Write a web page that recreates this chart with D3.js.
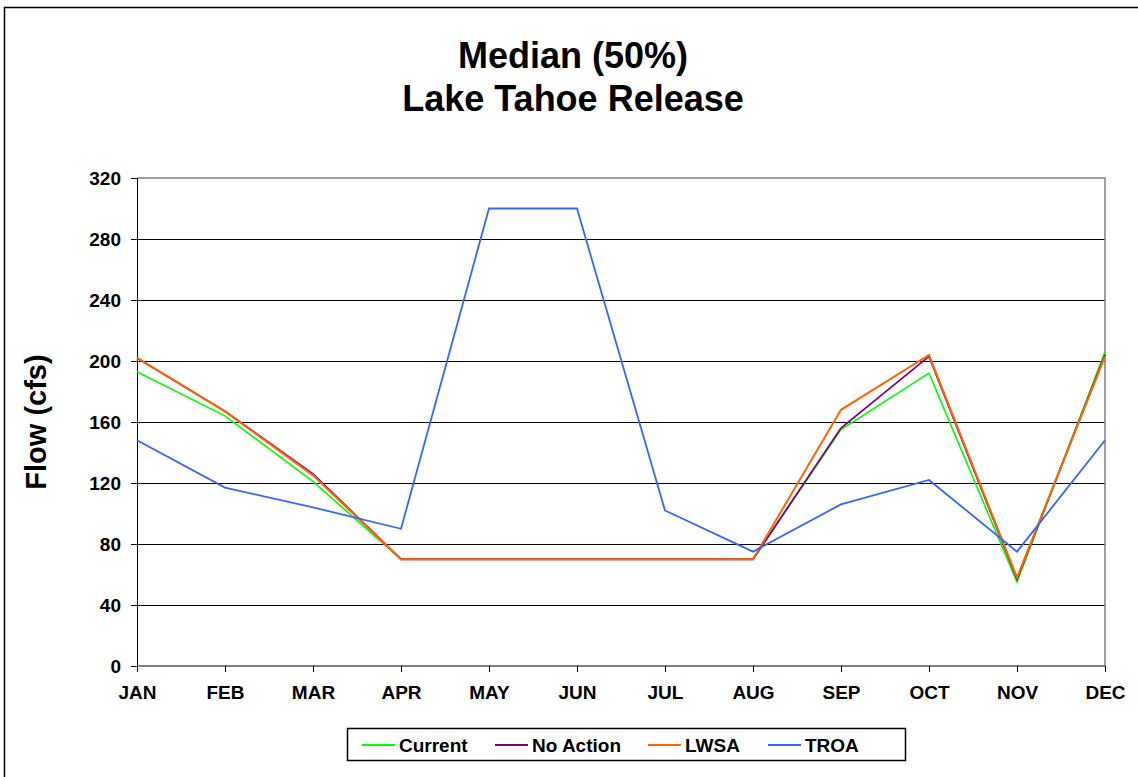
<!DOCTYPE html>
<html>
<head>
<meta charset="utf-8">
<script src="https://cdn.jsdelivr.net/npm/d3@7"></script>
<style>
  body { margin: 0; background: #fff; }
  text { font-family: "Liberation Sans", Arial, sans-serif; font-weight: bold; }
</style>
</head>
<body>
<div id="chart"></div>
<script>
const months = ['JAN', 'FEB', 'MAR', 'APR', 'MAY', 'JUN', 'JUL', 'AUG', 'SEP', 'OCT', 'NOV', 'DEC'];
const current = [193, 164, 121, 70, 70, 70, 70, 70, 155, 192, 55, 206];
const noAction = [202, 167, 126, 70, 70, 70, 70, 70, 156, 203, 57, 204];
const lwsa = [202, 167, 125, 70, 70, 70, 70, 70, 168, 204, 58, 203];
const troa = [148, 117, 104, 90, 300, 300, 102, 75, 106, 122, 75, 148];
const yTicks = [0, 40, 80, 120, 160, 200, 240, 280, 320];

const series = [
  { name: 'Current', values: current, color: '#00ff00', width: 1.6 },
  { name: 'No Action', values: noAction, color: '#800080', width: 1.8 },
  { name: 'LWSA', values: lwsa, color: '#ff6600', width: 2 },
  { name: 'TROA', values: troa, color: '#3366ff', width: 1.8 },
];

const width = 1138;
const height = 777;
const margin = { top: 178, right: 33, bottom: 111, left: 137 };

const svg = d3
  .select('#chart')
  .append('svg')
  .attr('width', width)
  .attr('height', height);

// outer chart frame
svg.append('rect')
  .attr('x', 4.5).attr('y', 7.5)
  .attr('width', width + 10).attr('height', height + 10)
  .attr('fill', 'none').attr('stroke', '#000').attr('stroke-width', 1.5);

const x = d3.scalePoint().domain(months).range([margin.left, width - margin.right]);
const y = d3.scaleLinear().domain([0, 320]).range([height - margin.bottom, margin.top]);

// gridlines
svg.append('g')
  .selectAll('line')
  .data(yTicks.filter(d => d > 0 && d < 320))
  .join('line')
  .attr('x1', margin.left).attr('x2', width - margin.right)
  .attr('y1', d => Math.round(y(d)) + 0.5).attr('y2', d => Math.round(y(d)) + 0.5)
  .attr('stroke', '#000').attr('stroke-width', 1);

// plot border top/right (gray)
svg.append('path')
  .attr('d', `M${margin.left},${y(320)}H${width - margin.right}V${y(0)}`)
  .attr('fill', 'none').attr('stroke', '#808080').attr('stroke-width', 1.5);

// y axis
const yAxis = svg.append('g')
  .attr('transform', `translate(${margin.left},0)`)
  .call(d3.axisLeft(y).tickValues(yTicks).tickSize(6).tickPadding(10));
yAxis.selectAll('text').style('font-size', '19px').attr('fill', '#000');
yAxis.selectAll('line, path').attr('stroke', '#000');

// x axis
const xAxis = svg.append('g')
  .attr('transform', `translate(0,${y(0)})`)
  .call(d3.axisBottom(x).tickSize(6).tickPadding(14));
xAxis.select('.domain').attr('d', `M${margin.left},0H${width - margin.right}`);
xAxis.selectAll('text').style('font-size', '19px').attr('fill', '#000');
xAxis.selectAll('line, path').attr('stroke', '#000');

// lines
const line = d3.line().x((d, i) => x(months[i])).y(d => y(d));
svg.append('g')
  .selectAll('path')
  .data(series)
  .join('path')
  .attr('d', d => line(d.values))
  .attr('fill', 'none')
  .attr('stroke', d => d.color)
  .attr('stroke-width', d => d.width)
  .attr('stroke-linejoin', 'miter');

// title
svg.append('text')
  .attr('x', 573).attr('y', 68)
  .attr('text-anchor', 'middle')
  .style('font-size', '36px')
  .text('Median (50%)');
svg.append('text')
  .attr('x', 573).attr('y', 111)
  .attr('text-anchor', 'middle')
  .style('font-size', '36px')
  .text('Lake Tahoe Release');

// y title
svg.append('text')
  .attr('transform', `translate(46,${(y(0) + y(320)) / 2}) rotate(-90)`)
  .attr('text-anchor', 'middle')
  .style('font-size', '29px')
  .text('Flow (cfs)');

// legend
const legendX = [362, 495, 648, 768];
const legend = svg.append('g');
legend.append('rect')
  .attr('x', 347.5).attr('y', 728.5)
  .attr('width', 558).attr('height', 32)
  .attr('fill', '#fff').attr('stroke', '#000').attr('stroke-width', 1.5);
const item = legend.selectAll('g')
  .data(series)
  .join('g')
  .attr('transform', (d, i) => `translate(${legendX[i]},745)`);
item.append('line')
  .attr('x1', 0).attr('x2', 33)
  .attr('stroke', d => d.color).attr('stroke-width', 2);
item.append('text')
  .attr('x', 37).attr('dy', '0.35em')
  .style('font-size', '19px')
  .text(d => d.name);
</script>
</body>
</html>
